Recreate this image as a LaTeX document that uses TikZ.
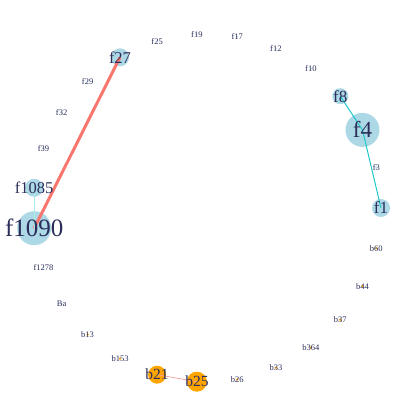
\documentclass[tikz,border=0pt]{standalone}
\usepackage{fontspec}
\setmainfont{Liberation Serif}
\definecolor{txt}{HTML}{2B2E5A}
\definecolor{lb}{HTML}{ADD8E6}
\definecolor{org}{HTML}{FFA500}
\definecolor{redge}{HTML}{F8766D}
\definecolor{cedge}{HTML}{1FC8C8}
\definecolor{pedge}{HTML}{A8EDEC}
\definecolor{pinkedge}{HTML}{F4A0A0}
\tikzset{
  lbl/.style={text=txt, inner sep=0pt, font=\fontsize{8.5}{9}\selectfont},
  dotf/.style={circle, fill=lb, inner sep=0pt, minimum size=2pt},
  dotb/.style={circle, fill=org, inner sep=0pt, minimum size=2.5pt},
  bigf/.style={circle, fill=lb, inner sep=0pt},
  bigb/.style={circle, fill=org, inner sep=0pt},
}
\begin{document}
\begin{tikzpicture}[x=1pt,y=1pt]
\useasboundingbox (0,0) rectangle (415,415);
\begin{scope}[shift={(207,207)}]
% circles (drawn first, edges on top? edges under labels)
\node[bigf, minimum size=34pt] (c1090) at (186.67:174) {};
\node[bigf, minimum size=18pt] (c1085) at (173.33:174) {};
\node[bigf, minimum size=18pt] (c27) at (120:174) {};
\node[bigf, minimum size=16pt] (c8) at (40:174) {};
\node[bigf, minimum size=34pt] (c4) at (26.67:174) {};
\node[bigf, minimum size=18pt] (c1) at (0:174) {};
\node[bigb, minimum size=18pt] (c21) at (253.33:174) {};
\node[bigb, minimum size=20pt] (c25) at (266.67:174) {};
% small dots
\foreach \a/\n in {13.33/d3,53.33/d10,66.67/d12,80/d17,93.33/d19,106.67/d25,133.33/d29,146.67/d32,160/d39,200/d1278,213.33/dBa}
  \node[dotf] (\n) at (\a:174) {};
\foreach \a/\n in {226.67/d13,240/d153,280/d26,293.33/d33,306.67/d364,320/d37,333.33/d44,346.67/d60}
  \node[dotb] (\n) at (\a:174) {};
% edges
\draw[redge, line width=3pt] (c27.center) -- (c1090.center);
\draw[pedge, line width=1pt] (c1085.center) -- (c1090.center);
\draw[cedge, line width=1pt] (c8.center) -- (c4.center);
\draw[cedge, line width=1pt] (c4.center) -- (c1.center);
\draw[pinkedge, line width=0.7pt] (c21.center) -- (c25.center);
% labels
\node[lbl, font=\fontsize{25}{25}\selectfont] (l1090) at (c1090) {f1090};
\node[lbl, font=\fontsize{16.5}{17}\selectfont] (l1085) at (c1085) {f1085};
\node[lbl, font=\fontsize{16.5}{17}\selectfont] (l27) at (c27) {f27};
\node[lbl, font=\fontsize{17}{17}\selectfont] (l8) at (c8) {f8};
\node[lbl, font=\fontsize{23}{23}\selectfont] (l4) at (c4) {f4};
\node[lbl, font=\fontsize{17}{17}\selectfont] (l1) at (c1) {f1};
\node[lbl, font=\fontsize{15.5}{16}\selectfont] (l21) at (c21) {b21};
\node[lbl, font=\fontsize{15.5}{16}\selectfont] (l25) at (c25) {b25};
\foreach \n/\t in {d3/f3,d10/f10,d12/f12,d17/f17,d19/f19,d25/f25,d29/f29,d32/f32,d39/f39,d1278/f1278,dBa/Ba,d13/b13,d153/b153,d26/b26,d33/b33,d364/b364,d37/b37,d44/b44,d60/b60}
  \node[lbl] (l\n) at (\n) {\t};
\end{scope}
\end{tikzpicture}
\end{document}
